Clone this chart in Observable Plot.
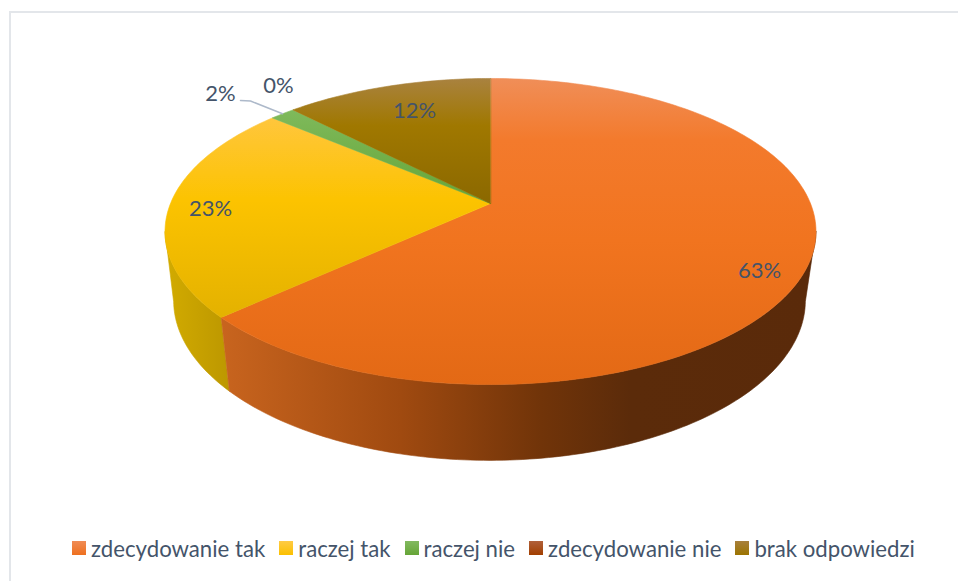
<!DOCTYPE html>
<html>
<head>
<meta charset="utf-8">
<script src="https://cdn.jsdelivr.net/npm/d3@7"></script>
<script src="https://cdn.jsdelivr.net/npm/@observablehq/plot@0.6"></script>
<style>
  html, body { margin: 0; padding: 0; background: #fff; }
  body { width: 958px; height: 581px; position: relative; overflow: hidden; font-family: Lato, sans-serif; }
  #frame { position: absolute; left: 9px; top: 11px; width: 949px; height: 570px; border-left: 2px solid #e3e6ea; border-top: 2px solid #e3e6ea; box-sizing: border-box; pointer-events: none; }
  #chart svg { display: block; }
  #legend { position: absolute; left: 72px; top: 530px; height: 36px; display: flex; align-items: center; gap: 14px; font-size: 22.2px; color: #44546A; white-space: nowrap; }
  #legend .item { display: flex; align-items: center; gap: 5px; }
  #legend .sw { width: 14px; height: 14px; display: inline-block; }
</style>
</head>
<body>
<div id="chart"></div>
<div id="frame"></div>
<div id="legend"></div>
<script>
// Data
const categories = ["zdecydowanie tak", "raczej tak", "raczej nie", "zdecydowanie nie", "brak odpowiedzi"];
const values = [63.2, 23.0, 1.5, 0, 12.3];

// Label anchors (layout only)
const labelX = [759, 210, 220, 278, 414];
const labelY = [270, 208, 93, 85.5, 110];

// Styles
const swatches = [
  "linear-gradient(#F08C55,#EE701F)",
  "linear-gradient(#FFCB45,#FBC000)",
  "linear-gradient(#82B960,#66A537)",
  "linear-gradient(#B0603A,#A23F00)",
  "linear-gradient(#A8803C,#9C7400)"
];
const topStops = [
  [[78, "#F08E58"], [140, "#F37A2C"], [240, "#F1741F"], [384, "#E36915"]],
  [[118, "#FFC63C"], [200, "#FCC300"], [320, "#E3B100"]],
  [[108, "#7FBA5C"], [203, "#65A537"]],
  [[78, "#9A5A30"], [203, "#8C3A00"]],
  [[78, "#A9823F"], [125, "#A07800"], [203, "#8B6800"]]
];
const sideStops = [
  [[222, "#C8641E"], [400, "#A04A10"], [540, "#713409"], [630, "#5B2B0A"], [816, "#5A2A0A"]],
  [[165, "#D2AB00"], [230, "#BC9700"]]
];

const W = 958, H = 530;

// Perspective circles for the top and bottom faces of the disc
const topFace = {cx: 490, cy: 203, A: 320, B: 147.9, k: -0.183};
const bottomFace = {cx: 489, cy: 272, A: 311, B: 155, k: -0.175};
const project = (f, turn) => {
  const a = turn * 2 * Math.PI, x = Math.sin(a), y = -Math.cos(a), d = 1 + f.k * y;
  return {x: f.cx + x * f.A / d, y: f.cy + y * f.B / d};
};
const arc = (f, t0, t1) => {
  const n = Math.max(2, Math.ceil(Math.abs(t1 - t0) * 360));
  return d3.range(n + 1).map(i => project(f, t0 + (t1 - t0) * i / n));
};

const total = d3.sum(values);
const cum = Array.from(d3.cumsum(values), v => v / total);
const starts = [0, ...cum.slice(0, -1)];

const tangent = 100.5 / 360;   // where the side wall emerges from the top face
const topPoly = i => [{x: topFace.cx, y: topFace.cy}, ...arc(topFace, starts[i], cum[i])];
const sidePoly = (t0, t1) => [...arc(topFace, t0, t1), ...arc(bottomFace, t1, t0)];

const gradient = (id, stops, horizontal) => {
  const g = d3.create("svg:linearGradient").attr("id", id).attr("gradientUnits", "userSpaceOnUse");
  const lo = stops[0][0], hi = stops[stops.length - 1][0];
  if (horizontal) g.attr("x1", lo).attr("x2", hi).attr("y1", 0).attr("y2", 0);
  else g.attr("x1", 0).attr("x2", 0).attr("y1", lo).attr("y2", hi);
  stops.forEach(([p, c]) => g.append("stop").attr("offset", (p - lo) / (hi - lo)).attr("stop-color", c));
  return g.node();
};
const defs = () => {
  const d = d3.create("svg:defs");
  topStops.forEach((s, i) => d.node().appendChild(gradient("top" + i, s, false)));
  sideStops.forEach((s, i) => d.node().appendChild(gradient("side" + i, s, true)));
  return d.node();
};
const poly = (pts, id) => Plot.line(pts, {x: "x", y: "y", fill: `url(#${id})`, stroke: `url(#${id})`, strokeWidth: 0.6, curve: "linear-closed"});

const labels = values.map((v, i) => ({text: `${Math.round(v)}%`, x: labelX[i], y: labelY[i]}));
const greenMid = project(topFace, (starts[2] + cum[2]) / 2);
const leader = [{x: 240, y: 100}, {x: 250, y: 100.5}, greenMid];

const chart = Plot.plot({
  width: W, height: H,
  margin: 0,
  x: {domain: [0, W], range: [0, W], axis: null},
  y: {domain: [0, H], range: [0, H], axis: null},
  style: {background: "transparent"},
  marks: [
    defs,
    poly(sidePoly(cum[0], 1 - tangent), "side1"),
    poly(sidePoly(tangent, cum[0]), "side0"),
    ...values.map((v, i) => v > 0 ? poly(topPoly(i), "top" + i) : null).filter(Boolean),
    Plot.line(leader, {x: "x", y: "y", stroke: "#ADB9CA", strokeWidth: 1.5}),
    Plot.text(labels, {x: "x", y: "y", text: "text", fontFamily: "Lato, sans-serif", fontSize: 22, fill: "#44546A"})
  ]
});
document.getElementById("chart").appendChild(chart);

const legend = d3.select("#legend");
categories.forEach((c, i) => {
  const item = legend.append("span").attr("class", "item");
  item.append("span").attr("class", "sw").style("background", swatches[i]);
  item.append("span").text(c);
});
</script>
</body>
</html>
